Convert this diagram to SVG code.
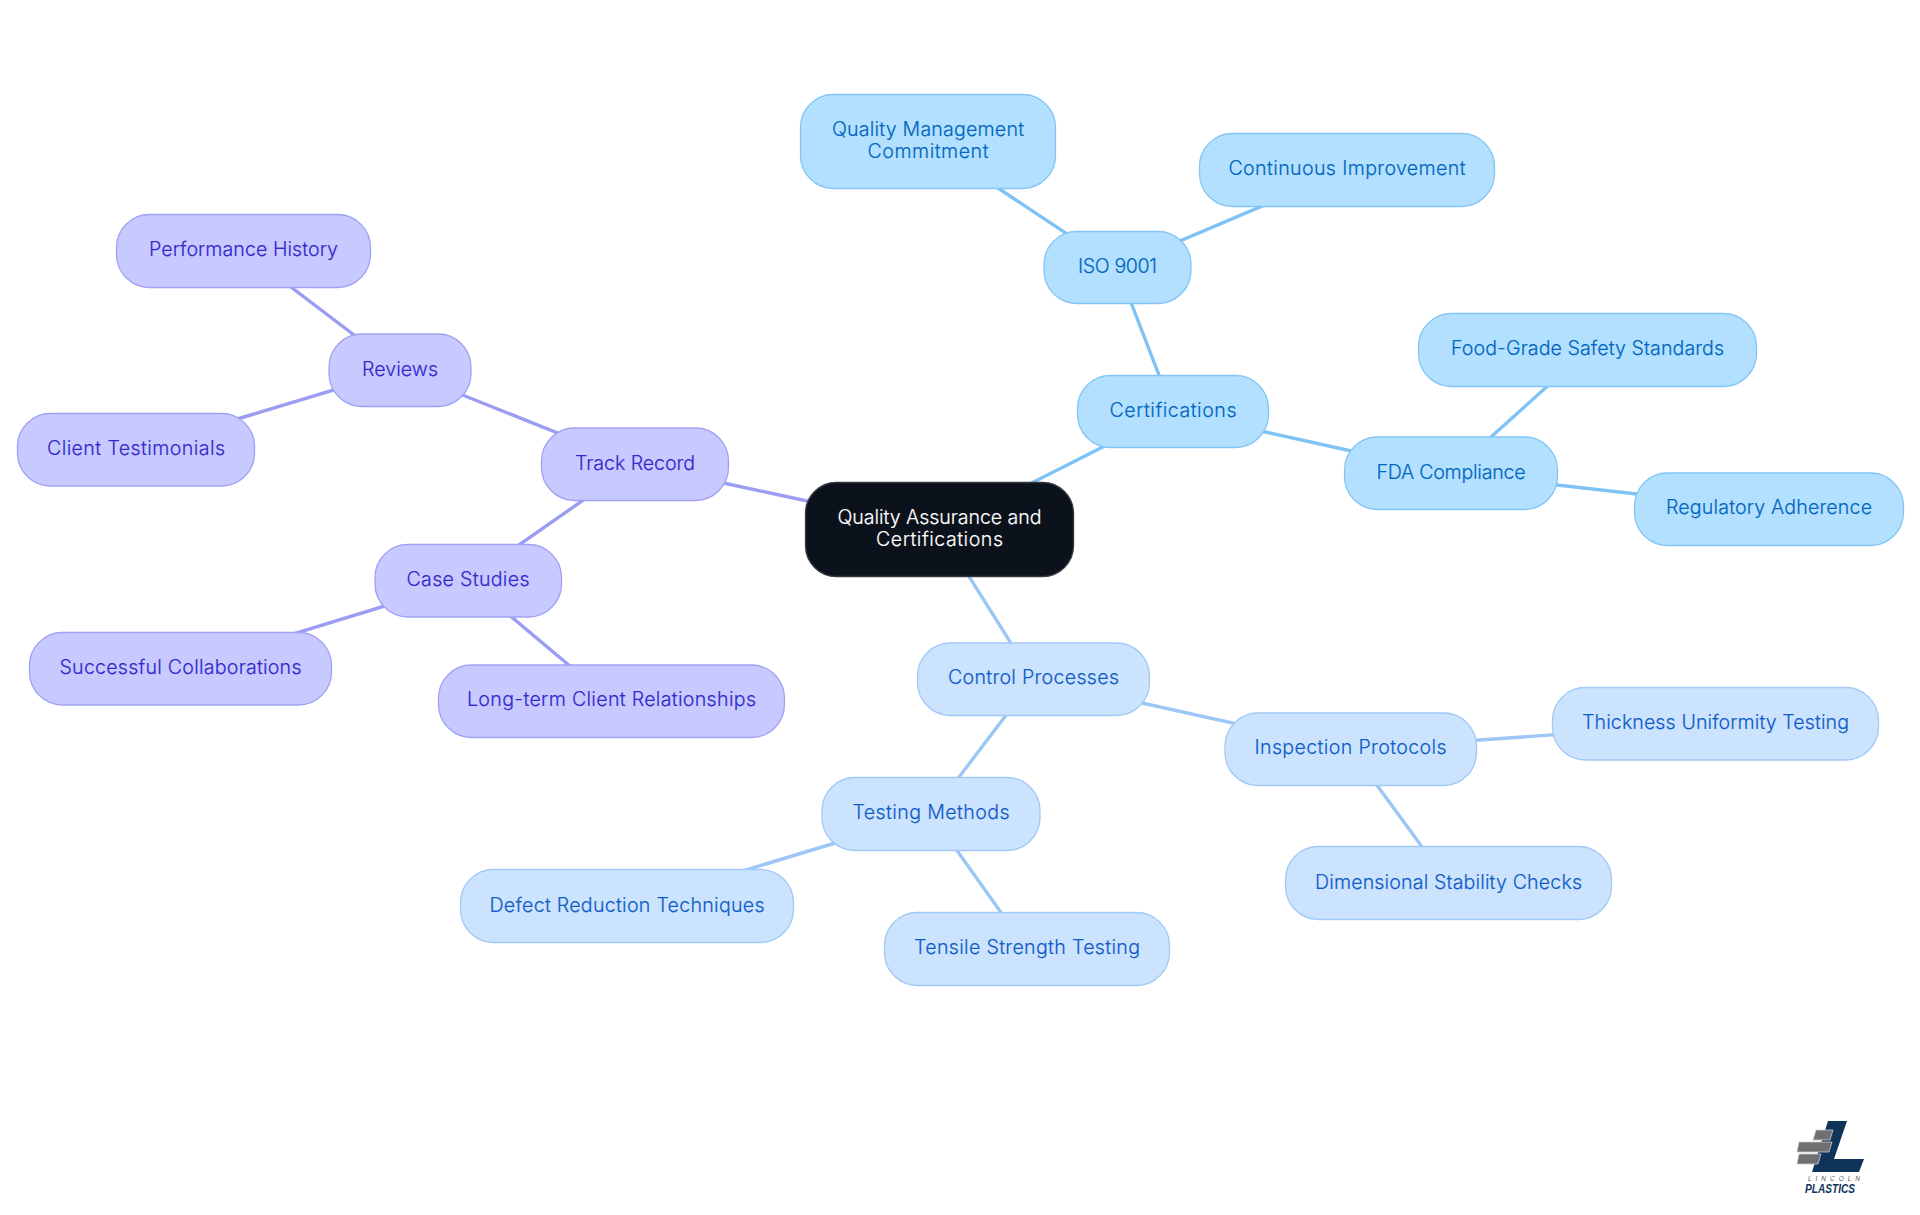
<svg xmlns="http://www.w3.org/2000/svg" width="1920" height="1215" viewBox="0 0 1920 1215">
<style>
text{font-family:Inter,"Liberation Sans",sans-serif;font-size:19.6px;font-weight:300;text-anchor:middle;stroke-width:.18}
rect.n{stroke-width:1.3}
.a rect{fill:#b3e0ff;stroke:#84c5f5}.a text{fill:#0066bf;stroke:#0066bf}
.b rect{fill:#cce3fd;stroke:#a1c9f5}.b text{fill:#0f5cc8;stroke:#0f5cc8}
.c rect{fill:#c8caff;stroke:#9fa2f3}.c text{fill:#3228cc;stroke:#3228cc}
.r rect{fill:#0c121b;stroke:#34383f}.r text{fill:#fff;stroke:#fff}
#connectors line{stroke-width:3.4;fill:none}
.la{stroke:#7fc2f5}.lb{stroke:#9cc6f5}.lc{stroke:#9a9df2}
</style>
<rect width="1920" height="1215" fill="#fff"/>
<g id="connectors">
<line class="la" x1="939.5" y1="529.5" x2="1173" y2="411.5"/>
<line class="la" x1="1173" y1="411.5" x2="1117.5" y2="267.5"/>
<line class="la" x1="1117.5" y1="267.5" x2="928" y2="141.5"/>
<line class="la" x1="1117.5" y1="267.5" x2="1347" y2="170"/>
<line class="la" x1="1173" y1="411.5" x2="1451" y2="473"/>
<line class="la" x1="1451" y1="473" x2="1587.5" y2="350"/>
<line class="la" x1="1451" y1="473" x2="1769" y2="509"/>
<line class="lb" x1="939.5" y1="529.5" x2="1033.5" y2="679"/>
<line class="lb" x1="1033.5" y1="679" x2="1350.5" y2="749"/>
<line class="lb" x1="1350.5" y1="749" x2="1715.5" y2="723.5"/>
<line class="lb" x1="1350.5" y1="749" x2="1448.5" y2="883"/>
<line class="lb" x1="1033.5" y1="679" x2="931" y2="814"/>
<line class="lb" x1="931" y1="814" x2="627" y2="906"/>
<line class="lb" x1="931" y1="814" x2="1027" y2="949"/>
<line class="lc" x1="939.5" y1="529.5" x2="635" y2="464"/>
<line class="lc" x1="635" y1="464" x2="400" y2="370"/>
<line class="lc" x1="400" y1="370" x2="243.5" y2="251"/>
<line class="lc" x1="400" y1="370" x2="136" y2="449.5"/>
<line class="lc" x1="635" y1="464" x2="468" y2="580.5"/>
<line class="lc" x1="468" y1="580.5" x2="180.5" y2="668.5"/>
<line class="lc" x1="468" y1="580.5" x2="611.5" y2="701"/>
</g>
<g id="root" class="r"><rect class="n" x="805.5" y="482.5" width="268" height="94" rx="31"/><text x="939.5" y="524" textLength="204">Quality Assurance and</text><text x="939.5" y="546" textLength="127">Certifications</text></g>
<g id="certifications" class="a"><rect class="n" x="1077.5" y="375.500" width="191" height="72" rx="33"/><text x="1173" y="417" textLength="127">Certifications</text></g>
<g id="iso9001" class="a"><rect class="n" x="1044" y="231.500" width="147" height="72" rx="33"/><text x="1117.5" y="273" textLength="79">ISO 9001</text></g>
<g id="qm-commitment" class="a"><rect class="n" x="800.5" y="94.500" width="255" height="94" rx="33"/><text x="928" y="136" textLength="192">Quality Management</text><text x="928" y="158" textLength="121">Commitment</text></g>
<g id="continuous-improvement" class="a"><rect class="n" x="1199.5" y="133.500" width="295" height="73" rx="33"/><text x="1347" y="175" textLength="237">Continuous Improvement</text></g>
<g id="fda-compliance" class="a"><rect class="n" x="1344.5" y="437" width="213" height="72.500" rx="33"/><text x="1451" y="478.500" textLength="149">FDA Compliance</text></g>
<g id="food-grade" class="a"><rect class="n" x="1418.5" y="313.500" width="338" height="73" rx="33"/><text x="1587.500" y="355" textLength="273">Food-Grade Safety Standards</text></g>
<g id="regulatory" class="a"><rect class="n" x="1634.5" y="473" width="269" height="72.500" rx="33"/><text x="1769" y="514" textLength="206">Regulatory Adherence</text></g>
<g id="control-processes" class="b"><rect class="n" x="917.5" y="643" width="232" height="72.500" rx="33"/><text x="1033.500" y="684" textLength="171">Control Processes</text></g>
<g id="inspection-protocols" class="b"><rect class="n" x="1225" y="713" width="251.500" height="72.500" rx="33"/><text x="1350.500" y="754" textLength="192">Inspection Protocols</text></g>
<g id="thickness" class="b"><rect class="n" x="1552.5" y="687.500" width="326" height="72.500" rx="33"/><text x="1715.500" y="729" textLength="267">Thickness Uniformity Testing</text></g>
<g id="dimensional" class="b"><rect class="n" x="1285.5" y="846.500" width="326" height="73" rx="33"/><text x="1448.500" y="889" textLength="267">Dimensional Stability Checks</text></g>
<g id="testing-methods" class="b"><rect class="n" x="822" y="777.500" width="218" height="73" rx="33"/><text x="931" y="819" textLength="157">Testing Methods</text></g>
<g id="defect" class="b"><rect class="n" x="460.5" y="869.500" width="333" height="73" rx="33"/><text x="627" y="912" textLength="275">Defect Reduction Techniques</text></g>
<g id="tensile" class="b"><rect class="n" x="884.5" y="912.500" width="285" height="73" rx="33"/><text x="1027" y="954" textLength="226">Tensile Strength Testing</text></g>
<g id="track-record" class="c"><rect class="n" x="541.5" y="428" width="187" height="72.500" rx="33"/><text x="635" y="469.500" textLength="120">Track Record</text></g>
<g id="reviews" class="c"><rect class="n" x="329" y="334" width="142" height="72.500" rx="33"/><text x="400" y="375.500" textLength="76">Reviews</text></g>
<g id="performance-history" class="c"><rect class="n" x="116.5" y="214.500" width="254" height="73" rx="33"/><text x="243.500" y="256" textLength="189">Performance History</text></g>
<g id="client-testimonials" class="c"><rect class="n" x="17.5" y="413.500" width="237" height="72.500" rx="33"/><text x="136" y="455" textLength="178">Client Testimonials</text></g>
<g id="case-studies" class="c"><rect class="n" x="375" y="544.500" width="186.500" height="72.500" rx="33"/><text x="468" y="586" textLength="123">Case Studies</text></g>
<g id="successful" class="c"><rect class="n" x="29.5" y="632.500" width="302" height="72.500" rx="33"/><text x="180.500" y="674" textLength="242">Successful Collaborations</text></g>
<g id="long-term" class="c"><rect class="n" x="438.5" y="665" width="346" height="72.500" rx="33"/><text x="611.500" y="706" textLength="289">Long-term Client Relationships</text></g>
<polygon points="1828,1121 1847,1121 1834,1159 1864,1159 1859,1172 1812,1172" fill="#0f3459"/>
<g fill="#6e7072" stroke="#c9cacb" stroke-width="0.8">
<polygon points="1816,1130 1833,1130 1830,1140 1813,1140"/>
<polygon points="1799,1142 1832,1142 1829,1152 1797,1152"/>
<polygon points="1799,1154 1821,1154 1818,1164 1797,1164"/>
</g>
<text x="1834" y="1181" textLength="52" style="font-family:'Liberation Sans',sans-serif;font-size:6.5px;font-style:italic;font-weight:400;fill:#555a60;stroke:none">LINCOLN</text>
<text x="1830" y="1193" textLength="50" lengthAdjust="spacingAndGlyphs" style="font-family:'Liberation Sans',sans-serif;font-size:13px;font-weight:700;font-style:italic;fill:#0f3459;stroke:none">PLASTICS</text>
</svg>
